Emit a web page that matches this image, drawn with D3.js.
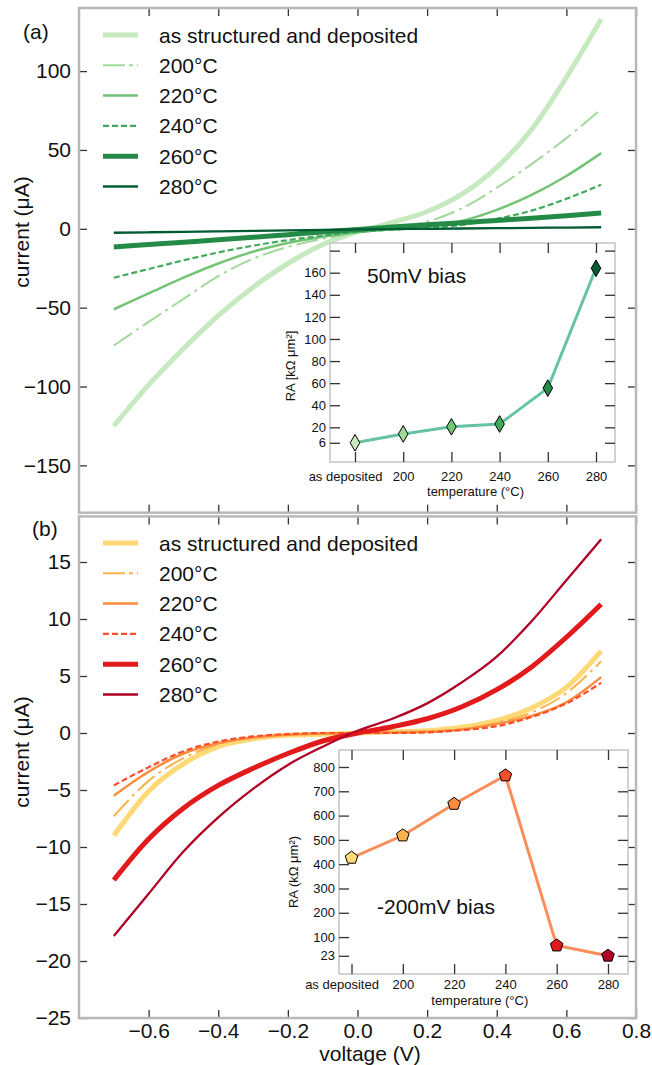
<!DOCTYPE html>
<html>
<head>
<meta charset="utf-8">
<script src="https://cdn.jsdelivr.net/npm/d3@7"></script>
<style>
  body { margin: 0; background: #fff; }
  svg text { font-family: "Liberation Sans", Arial, sans-serif; fill: #111; }
</style>
</head>
<body>
<svg id="chart" width="652" height="1065"></svg>
<script>
/* I-V curves of the junctions after annealing, two panels with RA insets */

// ---- data ----
const voltage = [-0.7, -0.6, -0.5, -0.4, -0.3, -0.2, -0.1, 0, 0.1, 0.2, 0.3, 0.4, 0.5, 0.6, 0.7];
const seriesLabels = ["as structured and deposited", "200°C", "220°C", "240°C", "260°C", "280°C"];

// panel (a) current in uA
const aAsDep = [-125, -99, -76, -55, -37, -22, -10, -2, 4, 11, 22, 39, 63, 96, 133];
const a200 = [-74, -59, -44.5, -30, -19, -11.5, -6.3, -2.5, 0, 4.5, 13, 26, 41, 57.5, 76];
const a220 = [-51, -41, -31, -22, -14.5, -9, -5, -2, -0.3, 1.3, 5, 12, 21.5, 33.5, 48];
const a240 = [-31, -25.5, -20, -15, -10.7, -7.2, -4.4, -2, -0.5, 0.6, 2.5, 6.3, 11.5, 19, 28];
const a260 = [-11.5, -10, -8.5, -7, -5.4, -3.7, -2, -0.4, 1.1, 2.5, 3.9, 5.3, 6.7, 8.3, 10];
const a280 = [-2.5, -2.2, -1.9, -1.6, -1.3, -1.0, -0.7, -0.4, -0.2, 0, 0.2, 0.4, 0.6, 0.8, 1.0];

// panel (b) current in uA
const bAsDep = [-9.0, -5.1, -2.7, -1.2, -0.5, -0.2, -0.1, 0, 0.1, 0.2, 0.5, 1.1, 2.2, 4.0, 7.2];
const b200 = [-7.3, -4.2, -2.2, -1.0, -0.4, -0.15, -0.05, 0, 0.05, 0.15, 0.35, 0.9, 1.8, 3.5, 6.3];
const b220 = [-5.5, -3.4, -1.8, -0.9, -0.4, -0.15, -0.05, 0, 0.05, 0.1, 0.3, 0.8, 1.5, 2.7, 4.9];
const b240 = [-4.6, -3.0, -1.6, -0.75, -0.3, -0.1, 0, 0, 0, 0.05, 0.25, 0.6, 1.4, 2.6, 4.4];
const b260 = [-12.9, -9.3, -6.6, -4.6, -3.1, -1.8, -0.7, 0, 0.55, 1.25, 2.3, 3.8, 5.8, 8.4, 11.3];
const b280 = [-17.8, -14.1, -10.4, -7.4, -4.9, -2.8, -1.2, 0.2, 1.25, 2.6, 4.45, 6.7, 9.8, 13.4, 17.0];

// insets: RA product vs annealing temperature
const tempCats = ["as deposited", "200", "220", "240", "260", "280"];
const raA = [6, 14, 20.5, 23, 55.5, 164];
const raB = [426, 518, 648, 765, 65, 23];

// tick values
const voltTicks = [-0.6, -0.4, -0.2, 0, 0.2, 0.4, 0.6, 0.8];
const curTicksA = [100, 50, 0, -50, -100, -150];
const curTicksB = [15, 10, 5, 0, -5, -10, -15, -20, -25];
const raTicksA = [6, 20, 40, 60, 80, 100, 120, 140, 160, 180];
const raTicksB = [23, 100, 200, 300, 400, 500, 600, 700, 800];

// ---- styles ----
const greens = ["#c7e9c0", "#a1d99b", "#74c476", "#41ab5d", "#238b45", "#005a32"];
const reds = ["#fed976", "#feb24c", "#fd8d3c", "#fc4e2a", "#e31a1c", "#b10026"];
const lineWidths = [5, 2, 2.5, 2.2, 5, 2.3];
const curveDash = [null, "22,5,3,5", null, "6,3", null, null];
const legendDash = [null, "22,4,4,4", null, "6,3", null, null];
const frameColor = "#b8b8b8";
const tickColor = "#333";
const mainFont = 21;
const insetFont = 13;

const svg = d3.select("#chart");

const x = d3.scaleLinear().domain([-0.8, 0.8]).range([79, 636]);

function styleAxis(g, fontSize) {
  g.select(".domain").remove();
  g.selectAll(".tick line").attr("stroke", tickColor).attr("stroke-width", 1.3);
  g.selectAll("text")
    .attr("font-family", "Liberation Sans, Arial, sans-serif")
    .attr("font-size", fontSize)
    .attr("fill", "#111");
}

/* one I-V panel: curves, frame, ticks and legend */
function drawPanel(cfg) {
  const y = cfg.y;
  const g = svg.append("g");
  const [x0, x1] = x.range();
  const [yb, yt] = y.range();

  const line = d3
    .line()
    .x((d, i) => x(voltage[i]))
    .y((d) => y(d))
    .curve(d3.curveMonotoneX);

  cfg.series.forEach(function (s, i) {
    g.append("path")
      .attr("d", line(s))
      .attr("fill", "none")
      .attr("stroke", cfg.colors[i])
      .attr("stroke-width", lineWidths[i])
      .attr("stroke-dasharray", curveDash[i]);
  });

  // ticks on all four sides, pointing in
  g.append("g")
    .attr("transform", `translate(${x0},0)`)
    .call(d3.axisLeft(y).tickValues(cfg.yTicks).tickSize(-8).tickPadding(8).tickFormat(d3.format("d")))
    .call(styleAxis, mainFont);
  g.append("g")
    .attr("transform", `translate(${x1},0)`)
    .call(d3.axisRight(y).tickValues(cfg.yTicks).tickSize(-8).tickFormat(""))
    .call(styleAxis, mainFont);
  g.append("g")
    .attr("transform", `translate(0,${yt})`)
    .call(d3.axisTop(x).tickValues(voltTicks).tickSize(-8).tickFormat(""))
    .call(styleAxis, mainFont);
  g.append("g")
    .attr("transform", `translate(0,${yb})`)
    .call(
      d3.axisBottom(x).tickValues(voltTicks).tickSize(-8).tickPadding(5)
        .tickFormat(cfg.xLabels ? d3.format(".1f") : "")
    )
    .call(styleAxis, mainFont);

  g.append("rect")
    .attr("x", x0)
    .attr("y", yt)
    .attr("width", x1 - x0)
    .attr("height", yb - yt)
    .attr("fill", "none")
    .attr("stroke", frameColor)
    .attr("stroke-width", 2.5);

  // legend
  const leg = g.append("g");
  seriesLabels.forEach(function (lab, i) {
    const ly = cfg.legendTop + i * 30.3;
    leg.append("line")
      .attr("x1", 103).attr("x2", 138)
      .attr("y1", ly).attr("y2", ly)
      .attr("stroke", cfg.colors[i])
      .attr("stroke-width", lineWidths[i])
      .attr("stroke-dasharray", legendDash[i]);
    leg.append("text")
      .attr("x", 159)
      .attr("y", ly + 7.5)
      .attr("font-size", mainFont)
      .text(lab);
  });

  g.append("text").attr("x", cfg.tagX).attr("y", cfg.tagY).attr("font-size", mainFont).text(cfg.tag);

  g.append("text")
    .attr("transform", `translate(${29},${cfg.ylabelY}) rotate(-90)`)
    .attr("text-anchor", "middle")
    .attr("font-size", mainFont)
    .text("current (μA)");
  return g;
}

const pentagon = {
  draw: function (ctx, size) {
    const r = Math.sqrt(size / 2.3776);
    for (let i = 0; i < 5; i++) {
      const a = -Math.PI / 2 + (i * 2 * Math.PI) / 5;
      if (i === 0) ctx.moveTo(r * Math.cos(a), r * Math.sin(a));
      else ctx.lineTo(r * Math.cos(a), r * Math.sin(a));
    }
    ctx.closePath();
  },
};

/* RA inset */
function drawInset(c) {
  const g = svg.append("g");
  const xi = d3.scalePoint().domain(tempCats).range([c.left + c.padL, c.right - c.padR]);
  const yi = d3.scaleLinear().domain(c.yDomain).range([c.bottom, c.top]);

  g.append("rect")
    .attr("x", c.left).attr("y", c.top)
    .attr("width", c.right - c.left).attr("height", c.bottom - c.top)
    .attr("fill", "#fff")
    .attr("stroke", "#c4c4c4")
    .attr("stroke-width", 1.5);

  g.append("g")
    .attr("transform", `translate(${c.left},0)`)
    .call(d3.axisLeft(yi).tickValues(c.yTicks).tickSize(-10).tickPadding(4)
      .tickFormat((d) => (d === 180 ? "" : d)))
    .call(styleAxis, insetFont);
  g.append("g")
    .attr("transform", `translate(${c.right},0)`)
    .call(d3.axisRight(yi).tickValues(c.yTicks).tickSize(-10).tickFormat(""))
    .call(styleAxis, insetFont);
  g.append("g")
    .attr("transform", `translate(0,${c.top})`)
    .call(d3.axisTop(xi).tickSize(-10).tickFormat(""))
    .call(styleAxis, insetFont);
  const bx = g.append("g")
    .attr("transform", `translate(0,${c.bottom})`)
    .call(d3.axisBottom(xi).tickSize(-10).tickPadding(c.labelPad))
    .call(styleAxis, insetFont);
  bx.selectAll(".tick text").filter((d) => d === "as deposited").attr("dx", -10);

  g.append("text")
    .attr("x", (xi(tempCats[0]) + xi(tempCats[5])) / 2)
    .attr("y", c.tempY)
    .attr("text-anchor", "middle")
    .attr("font-size", insetFont)
    .text("temperature (°C)");

  g.append("text")
    .attr("transform", `translate(${c.ylabX},${c.ylabY}) rotate(-90)`)
    .attr("text-anchor", "middle")
    .attr("font-size", insetFont)
    .text(c.ylabel);

  g.append("path")
    .datum(c.values)
    .attr("fill", "none")
    .attr("stroke", c.lineColor)
    .attr("stroke-width", 3)
    .attr("d", d3.line().x((d, i) => xi(tempCats[i])).y((d) => yi(d)));

  g.selectAll(".mk")
    .data(c.values)
    .enter()
    .append("path")
    .attr("transform", (d, i) => `translate(${xi(tempCats[i])},${yi(d)})`)
    .attr("d", d3.symbol().type(c.symbol).size(c.symbolSize)())
    .attr("fill", (d, i) => c.fills[i])
    .attr("stroke", "#000")
    .attr("stroke-width", 1);

  g.append("text")
    .attr("x", c.titleX).attr("y", c.titleY)
    .attr("font-size", 21)
    .text(c.title);
}

// ---- panel (a) ----
drawPanel({
  y: d3.scaleLinear().domain([-180, 140]).range([512.7, 8]),
  yTicks: curTicksA,
  xLabels: false,
  series: [aAsDep, a200, a220, a240, a260, a280],
  colors: greens,
  legendTop: 35,
  tag: "(a)", tagX: 23, tagY: 39,
  ylabelY: 232,
});

drawInset({
  left: 330, right: 615, top: 243, bottom: 462, padL: 25, padR: 19,
  yDomain: [-11.4, 186.9], yTicks: raTicksA,
  values: raA, fills: greens, lineColor: "#66c2a4",
  symbol: d3.symbolDiamond, symbolSize: 80,
  labelPad: 10, tempY: 496,
  ylabel: "RA [kΩ μm²]", ylabX: 295, ylabY: 366,
  title: "50mV bias", titleX: 367, titleY: 283,
});

// ---- panel (b) ----
drawPanel({
  y: d3.scaleLinear().domain([-25, 19]).range([1018, 516.4]),
  yTicks: curTicksB,
  xLabels: true,
  series: [bAsDep, b200, b220, b240, b260, b280],
  colors: reds,
  legendTop: 543,
  tag: "(b)", tagX: 32, tagY: 536,
  ylabelY: 752,
});

drawInset({
  left: 339, right: 628, top: 750, bottom: 974, padL: 12.5, padR: 20,
  yDomain: [-52, 870], yTicks: raTicksB,
  values: raB, fills: reds, lineColor: "#fc8d59",
  symbol: pentagon, symbolSize: 105,
  labelPad: 6, tempY: 1005,
  ylabel: "RA (kΩ μm²)", ylabX: 298, ylabY: 872,
  title: "-200mV bias", titleX: 377, titleY: 914,
});

svg.append("text")
  .attr("x", 370)
  .attr("y", 1061)
  .attr("text-anchor", "middle")
  .attr("font-size", mainFont)
  .text("voltage (V)");
</script>
</body>
</html>
